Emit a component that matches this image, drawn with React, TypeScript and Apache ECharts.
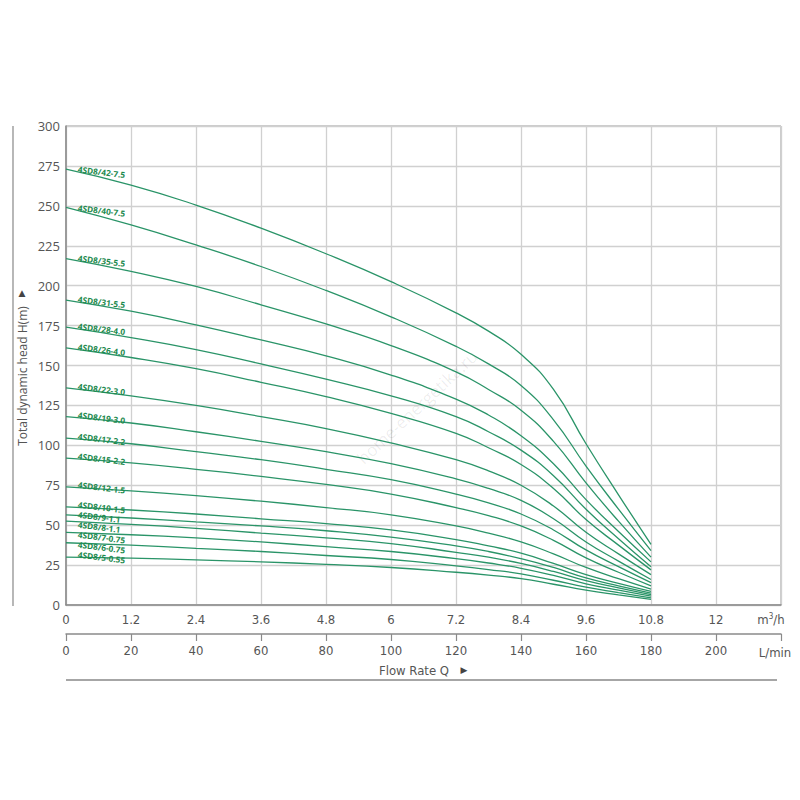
import React, { useEffect, useRef } from "react";
import * as echarts from "echarts";

// Flow rate sample points (m³/h)
const flowM3h = [0, 1.2, 2.4, 3.6, 4.8, 6.0, 7.2, 7.8, 8.4, 9.0, 9.6, 10.2, 10.8];

// Model names (top to bottom)
const models = [
  "4SD8/42-7.5",
  "4SD8/40-7.5",
  "4SD8/35-5.5",
  "4SD8/31-5.5",
  "4SD8/28-4.0",
  "4SD8/26-4.0",
  "4SD8/22-3.0",
  "4SD8/19-3.0",
  "4SD8/17-2.2",
  "4SD8/15-2.2",
  "4SD8/12-1.5",
  "4SD8/10-1.5",
  "4SD8/9-1.1",
  "4SD8/8-1.1",
  "4SD8/7-0.75",
  "4SD8/6-0.75",
  "4SD8/5-0.55",
];

// Head values (m) at each flow point
const h42 = [273, 263, 250.5, 236, 220, 202.5, 183, 171.5, 157, 135, 101, 69, 38];
const h40 = [249, 238, 225.5, 212, 197, 180.5, 162, 151, 137.5, 116, 87, 60, 34];
const h35 = [217, 209, 199.5, 188, 176, 162.5, 146, 135, 122, 102.5, 76.5, 52.5, 30];
const h31 = [191, 184, 175.5, 166, 156, 144, 129, 119, 106, 88.5, 66, 46, 27];
const h28 = [174, 167.5, 160, 151, 141.5, 131, 118, 108.5, 97, 81, 60, 41.5, 24];
const h26 = [161, 155, 148, 139.5, 130.5, 120, 107.5, 98.5, 88, 73, 53.5, 37.5, 22];
const h22 = [136, 131, 125, 118, 110.5, 101.5, 91, 84, 75, 62, 45.5, 32, 19];
const h19 = [118, 114, 108.5, 102.5, 96, 88.5, 79, 73, 65.5, 54, 39.5, 27.5, 16];
const h17 = [104.5, 101, 96, 91, 85, 78.5, 69.5, 64, 57, 47, 34.5, 24, 14];
const h15 = [92, 89, 85, 80.5, 75.5, 69.5, 61, 56, 49.5, 40.5, 29.5, 20.5, 12];
const h12 = [74, 71.5, 68.5, 65, 61, 56.5, 49.5, 45, 39.5, 32, 23.5, 16.5, 10];
const h10 = [61.5, 59.5, 57, 54, 51, 47, 41, 37, 32.5, 26, 19, 13.5, 8.5];
const h9 = [56.5, 54.5, 52, 49.5, 46.5, 42.5, 37, 33.5, 29, 23.5, 17, 12, 7.5];
const h8 = [52.5, 50.5, 48, 45, 42, 38.5, 33, 30, 26, 21, 15.2, 10.7, 6.5];
const h7 = [45.5, 44, 42, 39.5, 36.5, 33.5, 29, 26.3, 23, 18.5, 13.3, 9.3, 5.5];
const h6 = [39, 37.5, 35.5, 33.5, 31, 28.5, 24.5, 22.2, 19.5, 15.5, 11.2, 7.8, 4.5];
const h5 = [30, 29.3, 28.3, 27, 25.5, 23.5, 20.5, 18.7, 16.5, 13, 9.3, 6.3, 3.5];

const heads = [h42, h40, h35, h31, h28, h26, h22, h19, h17, h15, h12, h10, h9, h8, h7, h6, h5];

// Axis tick settings
const headMax = 300;
const headStep = 25;
const flowMax = 13.2;
const flowStep = 1.2;
const lpmMax = 220;
const lpmStep = 20;

const LINE_COLOR = "#2a9468";
const LABEL_COLOR = "#1d8a4e";
const TEXT_GRAY = "#555555";
const AXIS_GRAY = "#8a8a8a";
const GRID_GRAY = "#d0d0d0";
const NARROW = "'Liberation Sans Narrow','DejaVu Sans Condensed','Open Sans',sans-serif";

export default function App() {
  const ref = useRef<HTMLDivElement>(null);

  useEffect(() => {
    const chart = echarts.init(ref.current!, null, { renderer: "svg" });

    const series = heads.map((h, i) => ({
      name: models[i],
      type: "line",
      xAxisIndex: 0,
      yAxisIndex: 0,
      data: flowM3h.map((q, j) => [q, h[j]]),
      showSymbol: false,
      smooth: 0.5,
      silent: true,
      lineStyle: { color: LINE_COLOR, width: 1.3 },
      z: 3,
    }));

    const option: any = {
      animation: false,
      grid: [
        {
          left: 66,
          right: 19,
          top: 126,
          bottom: 195,
          show: true,
          borderColor: "#9a9a9a",
          borderWidth: 1,
        },
        { left: 66, right: 19, top: 633, height: 1 },
      ],
      xAxis: [
        {
          type: "value",
          gridIndex: 0,
          min: 0,
          max: flowMax,
          interval: flowStep,
          axisLine: { show: true, lineStyle: { color: AXIS_GRAY, width: 1.5 } },
          axisTick: { show: false },
          axisLabel: {
            color: TEXT_GRAY,
            fontSize: 13,
            fontFamily: NARROW,
            margin: 8,
            formatter: (v: number) => (v > flowMax - 0.1 ? "" : String(Number(v.toFixed(1)))),
          },
          splitLine: { show: true, lineStyle: { color: GRID_GRAY, width: 1.3 } },
        },
        {
          type: "value",
          gridIndex: 1,
          min: 0,
          max: lpmMax,
          interval: lpmStep,
          axisLine: { show: true, lineStyle: { color: AXIS_GRAY, width: 1.5 } },
          axisTick: { show: true, length: 7, lineStyle: { color: AXIS_GRAY, width: 1.2 } },
          axisLabel: {
            color: TEXT_GRAY,
            fontSize: 13,
            fontFamily: NARROW,
            margin: 10,
            formatter: (v: number) => (v > lpmMax - 1 ? "" : String(v)),
          },
          splitLine: { show: false },
        },
      ],
      yAxis: [
        {
          type: "value",
          gridIndex: 0,
          min: 0,
          max: headMax,
          interval: headStep,
          axisLine: { show: true, lineStyle: { color: AXIS_GRAY, width: 1.5 } },
          axisTick: { show: false },
          axisLabel: { color: TEXT_GRAY, fontSize: 13, fontFamily: "'Open Sans',sans-serif", margin: 6 },
          splitLine: { show: true, lineStyle: { color: GRID_GRAY, width: 1.3 } },
        },
        { type: "value", gridIndex: 1, show: false, min: 0, max: 1 },
      ],
      series,
    };

    chart.setOption(option);

    // Labels for curves placed from the data via the chart's scales
    const toPx = (p: number[]) => chart.convertToPixel({ gridIndex: 0 }, p) as number[];
    const labelX = 0.22;
    let prevY = -Infinity;
    const labelEls: any[] = heads.map((h, i) => {
      const p0 = toPx([flowM3h[0], h[0]]);
      const p1 = toPx([flowM3h[1], h[1]]);
      const lx = toPx([labelX, h[0]])[0];
      const lineY = p0[1] + ((p1[1] - p0[1]) * (labelX - flowM3h[0])) / (flowM3h[1] - flowM3h[0]);
      let y = lineY - 3.2;
      if (y < prevY + 10) y = prevY + 10;
      prevY = y;
      return {
        type: "text",
        x: lx,
        y,
        rotation: (-7 * Math.PI) / 180,
        z: 10,
        style: {
          text: models[i],
          fill: LABEL_COLOR,
          font: "bold 8.3px 'Open Sans', sans-serif",
          textAlign: "left",
          textVerticalAlign: "middle",
        },
      };
    });

    const top = toPx([0, headMax]);
    const bottom = toPx([0, 0]);
    const rightPx = toPx([flowMax, 0])[0];

    const extra: any[] = [
      // watermark
      {
        type: "text",
        x: 417,
        y: 407,
        rotation: (43 * Math.PI) / 180,
        z: 1,
        style: {
          text: "home-energetika.ru",
          fill: "rgba(0,0,0,0.08)",
          font: "17px 'Open Sans', sans-serif",
          textAlign: "center",
          textVerticalAlign: "middle",
        },
      },
      // Y axis title
      {
        type: "line",
        shape: { x1: 13, y1: top[1], x2: 13, y2: bottom[1] + 1 },
        style: { stroke: "#888", lineWidth: 1.2 },
      },
      {
        type: "text",
        x: 22,
        y: 376,
        rotation: Math.PI / 2,
        style: {
          text: "Total dynamic head H(m)",
          fill: TEXT_GRAY,
          font: "12px 'Open Sans', sans-serif",
          textAlign: "center",
          textVerticalAlign: "middle",
        },
      },
      {
        type: "text",
        x: 22,
        y: 293,
        style: {
          text: "▲",
          fill: "#444",
          font: "9px 'DejaVu Sans', sans-serif",
          textAlign: "center",
          textVerticalAlign: "middle",
        },
      },
      // units
      {
        type: "text",
        x: 771,
        y: 619,
        style: {
          rich: {
            a: { fill: TEXT_GRAY, font: `13px ${NARROW}` },
            s: { fill: TEXT_GRAY, font: `8px ${NARROW}`, verticalAlign: "top", padding: [0, 0, 6, 0] },
          },
          text: "{a|m}{s|3}{a|/h}",
          textAlign: "center",
          textVerticalAlign: "middle",
        },
      },
      {
        type: "text",
        x: 775,
        y: 652,
        style: {
          text: "L/min",
          fill: TEXT_GRAY,
          font: `13px ${NARROW}`,
          textAlign: "center",
          textVerticalAlign: "middle",
        },
      },
      {
        type: "text",
        x: 414,
        y: 670,
        style: {
          text: "Flow Rate Q",
          fill: TEXT_GRAY,
          font: `13px ${NARROW}`,
          textAlign: "center",
          textVerticalAlign: "middle",
        },
      },
      {
        type: "text",
        x: 464,
        y: 670,
        style: {
          text: "▶",
          fill: "#444",
          font: "9px 'DejaVu Sans', sans-serif",
          textAlign: "center",
          textVerticalAlign: "middle",
        },
      },
      {
        type: "line",
        shape: { x1: top[0], y1: 680, x2: rightPx - 4, y2: 680 },
        style: { stroke: "#888", lineWidth: 1.5 },
      },
    ];

    chart.setOption({ graphic: [...extra, ...labelEls] });

    return () => chart.dispose();
  }, []);

  return (
    <div
      ref={ref}
      style={{ position: "absolute", left: 0, top: 0, width: 800, height: 800, background: "#fff" }}
    />
  );
}
